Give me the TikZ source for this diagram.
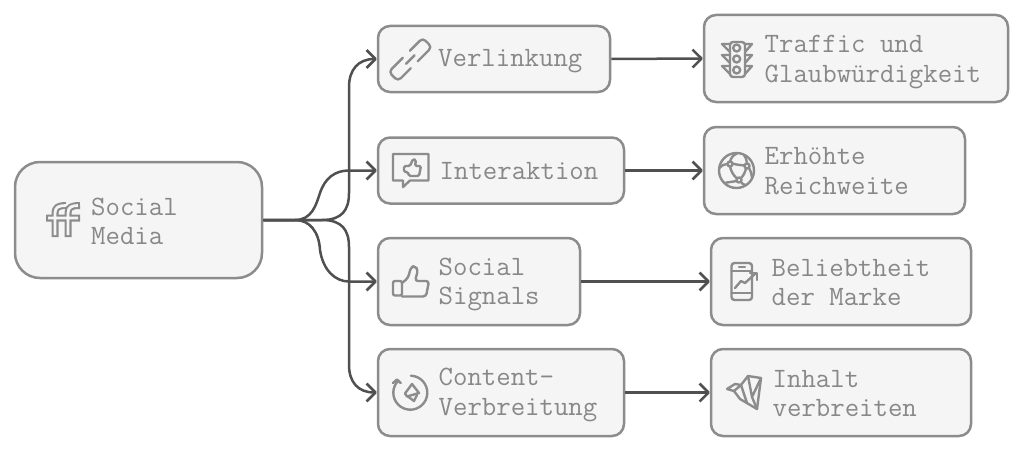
\documentclass[tikz,border=0pt]{standalone}
\usepackage{tikz}
\usetikzlibrary{arrows.meta}
\definecolor{boxfill}{HTML}{F5F5F5}
\definecolor{boxline}{HTML}{8C8C8C}
\definecolor{linkline}{HTML}{505050}
\definecolor{labelgray}{HTML}{888888}
\tikzset{
  box/.style={draw=boxline,fill=boxfill,line width=2.5pt,rounded corners=12pt,inner sep=0pt},
  txt/.style={anchor=west,align=left,inner sep=0pt,text=labelgray,font=\ttfamily\fontsize{28}{29.5}\selectfont},
  link/.style={draw=linkline,line width=2.5pt,-{Straight Barb[length=9pt,width=18pt,line join=round]}},
  icon/.style={draw=boxline,line width=2.4pt,line join=round,line cap=round}
}
\begin{document}
\begin{tikzpicture}[x=1pt,y=-1pt]
\useasboundingbox (0,0) rectangle (1024,452);
% boxes
\node [box,rounded corners=25pt,minimum width=247pt,minimum height=116pt] (media) at (138.5,220) {};
\node [box,minimum width=232pt,minimum height=66pt] (verlinkung) at (494,59) {};
\node [box,minimum width=246pt,minimum height=66pt] (interaktion) at (501,170.5) {};
\node [box,minimum width=202pt,minimum height=87pt] (signals) at (479,281.5) {};
\node [box,minimum width=246pt,minimum height=87pt] (content) at (501,392.5) {};
\node [box,minimum width=304pt,minimum height=87pt] (traffic) at (856,58.5) {};
\node [box,minimum width=261pt,minimum height=87pt] (reichweite) at (834.5,170.5) {};
\node [box,minimum width=260pt,minimum height=87pt] (marke) at (841,281.5) {};
\node [box,minimum width=260pt,minimum height=87pt] (inhalt) at (841,392.5) {};
% labels
\node [txt] (mediatxt) at (91,221.5) {Social\\Media};
\node [txt] (verlinkungtxt) at (438,61.5) {Verlinkung};
\node [txt] (interaktiontxt) at (439.5,171) {Interaktion};
\node [txt] (signalstxt) at (438.5,284.5) {Social\\Signals};
\node [txt] (contenttxt) at (438.5,395) {Content-\\Verbreitung};
\node [txt] (traffictxt) at (764.5,62) {Traffic und\\Glaubwürdigkeit};
\node [txt] (reichweitetxt) at (764.5,171) {Erhöhte\\Reichweite};
\node [txt] (marketxt) at (771.5,282.5) {Beliebtheit\\der Marke};
\node [txt] (inhalttxt) at (772.5,393.5) {Inhalt\\verbreiten};
% connectors
\draw [link] (media.east) -- (322,220) .. controls (342,220) and (349,210) .. (349,193) -- (349,87) .. controls (349,70) and (358,59) .. (verlinkung.west);
\draw [link] (media.east) -- (295,220) .. controls (312,220) and (316,205) .. (320,193) .. controls (325,178) and (335,170.5) .. (349,170.5) -- (interaktion.west);
\draw [link] (media.east) -- (295,220) .. controls (310,220) and (319,232) .. (320,250) .. controls (323,270) and (335,281.5) .. (349,281.5) -- (signals.west);
\draw [link] (media.east) -- (322,220) .. controls (342,220) and (349,230) .. (349,247) -- (349,365) .. controls (349,382) and (358,392.5) .. (content.west);
\draw [link] (verlinkung.east) -- (traffic.west);
\draw [link] (interaktion.east) -- (reichweite.west);
\draw [link] (signals.east) -- (marke.west);
\draw [link] (content.east) -- (inhalt.west);
% ff
\draw [draw=boxline,line width=7pt,line join=round]
  (55,237) -- (55,213) .. controls (55,207) and (59,205.5) .. (66,205.5)
  (68,237) -- (68,213) .. controls (68,207) and (72,205.5) .. (80,205.5)
  (46,218) -- (80,218);
\draw [draw=boxfill,line width=2.8pt,line join=round]
  (55,235) -- (55,213) .. controls (55,207) and (59,205.5) .. (66,205.5)
  (68,235) -- (68,213) .. controls (68,207) and (72,205.5) .. (78,205.5)
  (48,218) -- (78,218);
% chain
\begin{scope}[shift={(410.3,59.5)},rotate=45]
\draw [icon,rounded corners=4pt] (4,6.5) -- (24,6.5) -- (24,-6.5) -- (6,-6.5);
\draw [icon,rounded corners=4pt] (-4,-6.5) -- (-24,-6.5) -- (-24,6.5) -- (-6,6.5);
\draw [icon] (-6,0) -- (6,0);
\end{scope}
% speech bubble
\draw [icon] (393,154) -- (428.5,154) -- (428.5,180.5) -- (410,180.5) -- (403,187) -- (403,180.5) -- (393,180.5) -- cycle;
\draw [icon,rounded corners=1.5pt] (404,166) -- (410,166) -- (413,159) -- (416,160) -- (415,166) -- (421,166) -- (419,176) -- (409,176) -- (408,172) -- (404,172) -- cycle;
% thumb
\draw [icon,rounded corners=2pt] (393,281) -- (402,281) -- (402,295.5) -- (393,295.5) -- cycle;
\draw [icon,rounded corners=3pt] (402,283) -- (408,278) -- (411,267) -- (415,266) -- (418,270) -- (415,281) -- (429,281) -- (426,296.5) -- (402,296.5);
% circular arrow
\draw [icon] (410.9,375.7) arc (88:-225:17pt);
\draw [icon] (393,383) -- (397,379.5) -- (400.7,383);
\draw [icon] (412,384) -- (419,393) -- (407,396.5) -- (405,393.5) -- cycle;
\draw [icon] (408,396.5) -- (414,401) -- (417,395);
% traffic light
\draw [icon,rounded corners=3pt] (730,42) rectangle (745,77);
\draw [icon] (736.7,48) circle (3.5pt) (736.7,59) circle (3.5pt) (736.7,70) circle (3.5pt);
\draw [icon] (730,44) -- (722,44) -- (730,52) (730,55) -- (722,55) -- (730,63) (730,66) -- (722,66) -- (730,74);
\draw [icon] (745,44) -- (752,44) -- (745,52) (745,55) -- (752,55) -- (745,63) (745,66) -- (752,66) -- (745,74);
% globe
\draw [icon] (736.5,170.5) circle (17.5pt);
\draw [icon] (730,164) circle (2.5pt) (747,166) circle (2.5pt) (739,180) circle (2.5pt);
\draw [icon] (732.5,163.5) .. controls (737,165) and (741,165) .. (744.5,165.5);
\draw [icon] (746,168.5) .. controls (745,173) and (743,176) .. (741,178);
\draw [icon] (737,178.5) .. controls (733,175) and (731,171) .. (730,166.5);
\draw [icon] (737,153.5) .. controls (733,155) and (731,158) .. (730,161.5);
\draw [icon] (744,155) .. controls (746,158) and (747,161) .. (747,163.5);
\draw [icon] (719.5,168) .. controls (722,165) and (725,164) .. (727.5,164);
\draw [icon] (749,168) .. controls (751,172) and (752,175) .. (752,178);
\draw [icon] (741,182) .. controls (742,184) and (744,185) .. (746,185);
\draw [icon] (736.5,181) .. controls (732,182) and (728,182) .. (725,183);
% phone
\draw [icon,rounded corners=3pt] (731.5,263) rectangle (752,300);
\draw [icon] (731.5,271) -- (752,271) (731.5,293) -- (752,293) (739,267) -- (745,267);
\draw [icon] (735,288) -- (741,281) -- (745,283) -- (756,273);
\draw [icon] (750,273) -- (757,273) -- (757,280);
% bird
\draw [icon] (727,389) -- (735,384) -- (741,385) -- (748,376) -- (761,378) -- (757,409) -- (740,399) -- (734,391) -- cycle;
\draw [icon] (748,376) -- (752,397) -- (761,378) (752,397) -- (757,409) (741,385) -- (747,403) (734,391) -- (741,385);
\end{tikzpicture}
\end{document}
